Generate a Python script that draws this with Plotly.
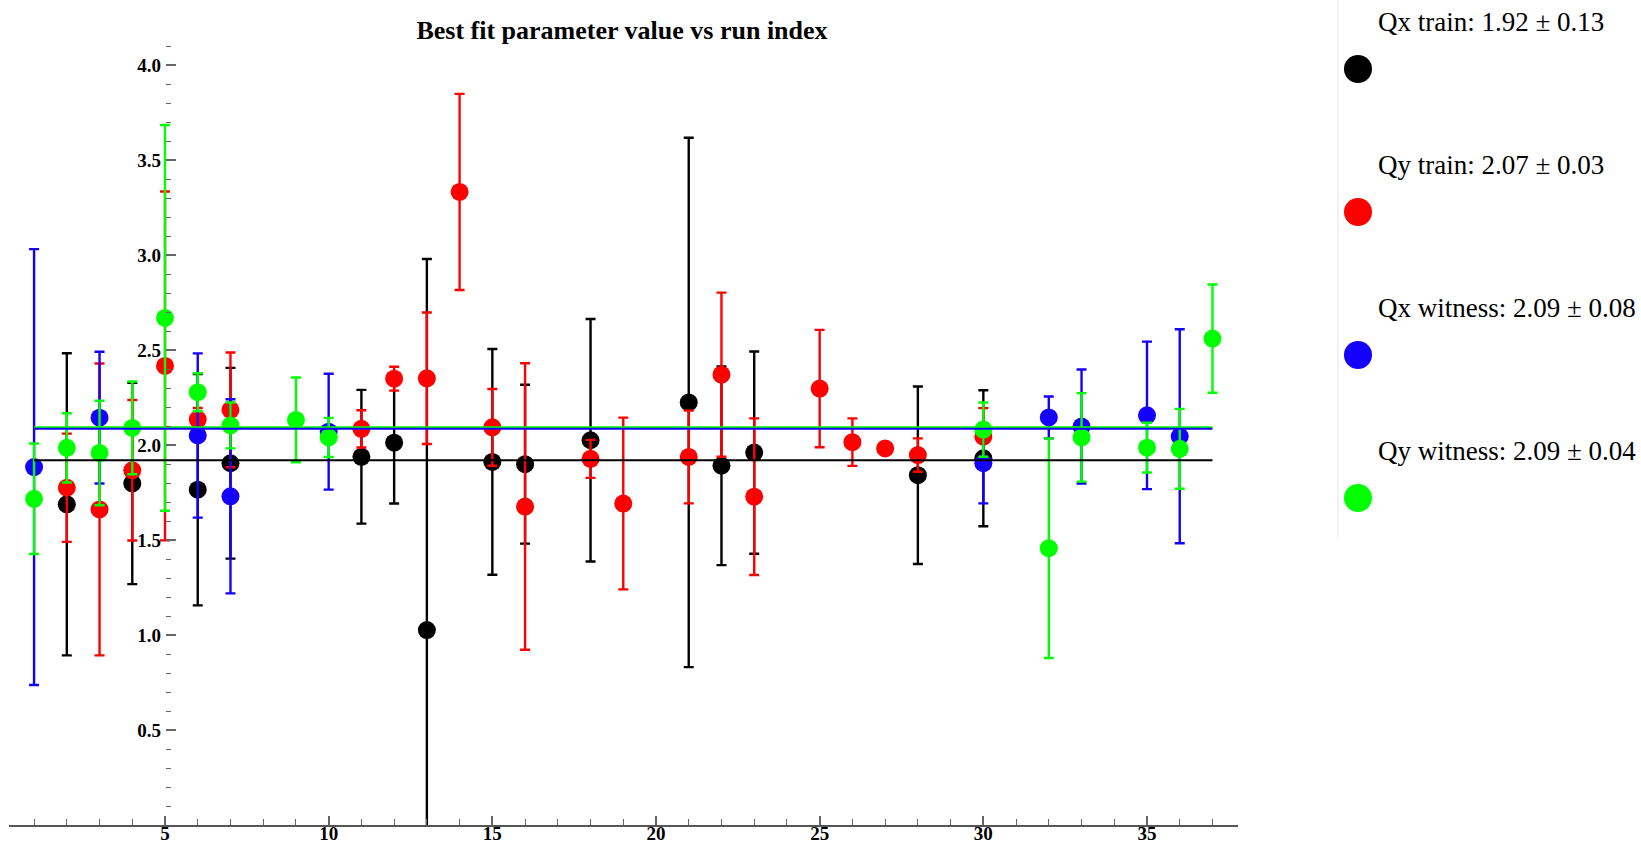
import plotly.graph_objects as go

# ---- fitted tune values per run ----
qx_train_run = [2, 4, 6, 7, 11, 12, 13, 15, 16, 18, 21, 22, 23, 28, 30]
qx_train_val = [1.688, 1.798, 1.765, 1.904, 1.938, 2.012, 1.026, 1.911, 1.899, 2.025, 2.224, 1.891, 1.960, 1.841, 1.930]
qx_train_err = [0.795, 0.530, 0.609, 0.502, 0.352, 0.320, 1.953, 0.594, 0.418, 0.638, 1.393, 0.523, 0.532, 0.467, 0.358]

qy_train_run = [2, 3, 4, 5, 6, 7, 11, 12, 13, 14, 15, 16, 18, 19, 21, 22, 23, 25, 26, 27, 28, 30]
qy_train_val = [1.775, 1.661, 1.867, 2.416, 2.135, 2.185, 2.085, 2.349, 2.351, 3.332, 2.093, 1.676, 1.927, 1.692,
                1.937, 2.370, 1.728, 2.297, 2.015, 1.982, 1.947, 2.044]
qy_train_err = [0.285, 0.768, 0.370, 0.918, 0.060, 0.302, 0.098, 0.063, 0.346, 0.516, 0.202, 0.754, 0.100, 0.452,
                0.244, 0.432, 0.412, 0.309, 0.125, 0.020, 0.088, 0.150]

qx_witness_run = [1, 3, 6, 7, 10, 30, 32, 33, 35, 36]
qx_witness_val = [1.884, 2.144, 2.050, 1.730, 2.070, 1.904, 2.145, 2.097, 2.156, 2.046]
qx_witness_err = [1.147, 0.347, 0.432, 0.511, 0.305, 0.211, 0.110, 0.300, 0.388, 0.563]

qy_witness_run = [1, 2, 3, 4, 5, 6, 7, 9, 10, 30, 32, 33, 35, 36, 37]
qy_witness_val = [1.717, 1.985, 1.958, 2.090, 2.669, 2.278, 2.103, 2.132, 2.040, 2.081, 1.457, 2.040, 1.986, 1.980, 2.560]
qy_witness_err = [0.291, 0.182, 0.275, 0.244, 1.015, 0.100, 0.121, 0.223, 0.103, 0.143, 0.578, 0.233, 0.131, 0.210, 0.285]

# combined (weighted) results quoted in the legend
series_names = ["Qx train", "Qy train", "Qx witness", "Qy witness"]
series_colors = ["#000000", "#ff0000", "#1400ff", "#00ff00"]
series_mean = [1.92, 2.07, 2.086, 2.094]
series_sigma = [0.13, 0.03, 0.08, 0.04]
mean_line_span = [1, 37]

x_ticks = [5, 10, 15, 20, 25, 30, 35]
y_ticks = [0.5, 1.0, 1.5, 2.0, 2.5, 3.0, 3.5, 4.0]

# ---- page geometry ----
W, H = 1641, 845
ML, MR, MT, MB = 9, 403, 27, 20
PW, PH = W - ML - MR, H - MT - MB
x_range = [0.234, 37.78]
y_range = [0.0, 4.2]


def paper_x(px):
    return (px - ML) / PW


def paper_y(py):
    return (H - MB - py) / PH


fig = go.Figure()

data = [
    (qx_train_run, qx_train_val, qx_train_err),
    (qy_train_run, qy_train_val, qy_train_err),
    (qx_witness_run, qx_witness_val, qx_witness_err),
    (qy_witness_run, qy_witness_val, qy_witness_err),
]
for (runs, vals, errs), name, color in zip(data, series_names, series_colors):
    fig.add_trace(go.Scatter(
        x=runs, y=vals, mode="markers", name=name, showlegend=False,
        marker=dict(color=color, size=18, line=dict(width=0)),
        error_y=dict(type="data", array=errs, symmetric=True, color=color, thickness=2.4, width=5),
    ))

# mean lines (Qy train mean is not drawn)
for idx in (3, 2, 0):
    fig.add_trace(go.Scatter(
        x=mean_line_span, y=[series_mean[idx]] * 2, mode="lines", showlegend=False,
        line=dict(color=series_colors[idx], width=2), hoverinfo="skip",
    ))

tick_font = dict(family="Liberation Serif", size=19, color="#000000", weight="bold")

fig.update_layout(
    width=W, height=H,
    margin=dict(l=ML, r=MR, t=MT, b=MB, pad=0),
    paper_bgcolor="white", plot_bgcolor="white",
    showlegend=False,
    title=dict(
        text="<b>Best fit parameter value vs run index</b>",
        font=dict(family="Liberation Serif", size=26, color="#000000"),
        xref="container", yref="container", x=622 / W, y=1 - 30 / H,
        xanchor="center", yanchor="middle",
    ),
    xaxis=dict(
        range=x_range, showgrid=False, zeroline=False,
        showline=True, linecolor="#555555", linewidth=1.5,
        ticks="inside", ticklen=9, tickwidth=1.5, tickcolor="#666666",
        tickmode="array", tickvals=x_ticks, tickfont=tick_font, ticklabelstandoff=-10,
        minor=dict(ticks="inside", ticklen=6, tickwidth=1.2, tickcolor="#666666",
                   tickmode="array", tickvals=list(range(1, 38)), showgrid=False),
        automargin=False,
    ),
    yaxis=dict(
        range=y_range, showgrid=False, zeroline=False, showline=False,
        anchor="free", position=(5 - x_range[0]) / (x_range[1] - x_range[0]), side="left",
        ticks="inside", ticklen=10, tickwidth=1.5, tickcolor="#666666",
        tickmode="array", tickvals=y_ticks, tickformat=".1f", tickfont=tick_font,
        ticklabelstandoff=4,
        minor=dict(ticks="inside", ticklen=5, tickwidth=1.2, tickcolor="#666666",
                   tickmode="array", tickvals=[round(0.1 * k, 1) for k in range(1, 42)], showgrid=False),
        automargin=False,
    ),
)

# ---- legend panel ----
shapes = [dict(
    type="line", xref="paper", yref="paper",
    x0=paper_x(1338), x1=paper_x(1338), y0=paper_y(537), y1=paper_y(0),
    line=dict(color="#e6e6e6", width=1),
)]
annotations = []
for k, (name, color, m, s) in enumerate(zip(series_names, series_colors, series_mean, series_sigma)):
    text_y = 22 + 143 * k
    dot_y = 69 + 143 * k
    annotations.append(dict(
        text=f"{name}: {m:.2f} ± {s:.2f}", xref="paper", yref="paper",
        x=paper_x(1376), y=paper_y(text_y), xanchor="left", yanchor="middle",
        showarrow=False, font=dict(family="Liberation Serif", size=27, color="#000000"),
    ))
    shapes.append(dict(
        type="circle", xref="paper", yref="paper",
        xsizemode="pixel", ysizemode="pixel",
        xanchor=paper_x(1358), yanchor=paper_y(dot_y),
        x0=-14, x1=14, y0=-14, y1=14,
        fillcolor=color, line=dict(color=color, width=0),
    ))

fig.update_layout(shapes=shapes, annotations=annotations)

fig.write_html("out.html")
